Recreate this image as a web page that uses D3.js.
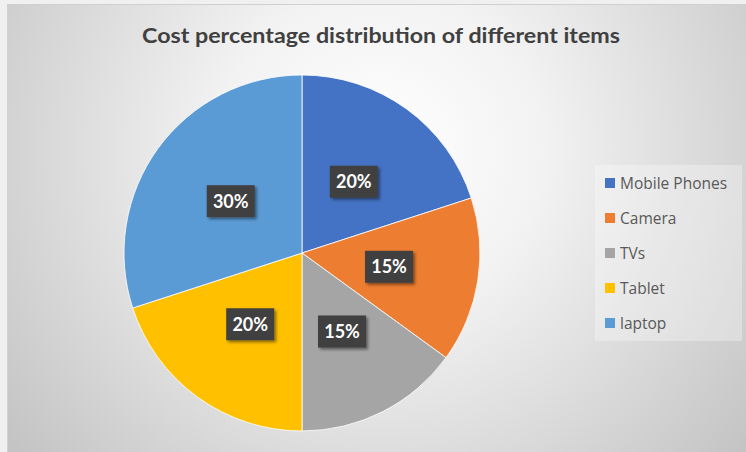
<!DOCTYPE html>
<html>
<head>
<meta charset="utf-8">
<script src="https://cdn.jsdelivr.net/npm/d3@7"></script>
<style>
  html, body { margin: 0; padding: 0; background: #f0f0f0; }
  svg { display: block; }
</style>
</head>
<body>
<svg id="chart" width="746" height="452"></svg>
<script>
// Cost share per item category
const categories = ["Mobile Phones", "Camera", "TVs", "Tablet", "laptop"];
const values = [20, 15, 15, 20, 30];
const colors = ["#4472C4", "#ED7D31", "#A5A5A5", "#FFC000", "#5B9BD5"];
const title = "Cost percentage distribution of different items";

const W = 746, H = 452;
const svg = d3.select("#chart");
const defs = svg.append("defs");

// Radial background fill of the chart area
const bg = defs.append("radialGradient")
  .attr("id", "bgGrad")
  .attr("gradientUnits", "userSpaceOnUse")
  .attr("cx", 380).attr("cy", 150).attr("r", 470);
bg.append("stop").attr("offset", 0).attr("stop-color", "#ffffff");
bg.append("stop").attr("offset", 0.35).attr("stop-color", "#f2f2f2");
bg.append("stop").attr("offset", 1).attr("stop-color", "#c4c4c4");

// Soft shadow under the value labels
const shadow = defs.append("filter").attr("id", "lblShadow")
  .attr("x", "-30%").attr("y", "-30%").attr("width", "160%").attr("height", "160%");
shadow.append("feDropShadow")
  .attr("dx", 2).attr("dy", 2).attr("stdDeviation", 1.8)
  .attr("flood-color", "#000").attr("flood-opacity", 0.45);

svg.append("rect")
  .attr("x", 7.5).attr("y", 4.5).attr("width", W - 7).attr("height", H - 4)
  .attr("fill", "url(#bgGrad)")
  .attr("stroke", "#d0d0d0").attr("stroke-width", 1);

svg.append("text")
  .attr("x", 381).attr("y", 43)
  .attr("text-anchor", "middle")
  .attr("font-family", "Lato, 'Open Sans', sans-serif")
  .attr("font-weight", "bold")
  .attr("font-size", 21.5)
  .attr("textLength", 478)
  .attr("lengthAdjust", "spacingAndGlyphs")
  .attr("fill", "#404040")
  .text(title);

// Pie
const cx = 302, cy = 253, R = 178;
const data = categories.map((c, i) => ({ name: c, value: values[i], color: colors[i] }));
const pie = d3.pie().value(d => d.value).sort(null);
const arcs = pie(data);
const arc = d3.arc().innerRadius(0).outerRadius(R);
const labelArc = d3.arc().innerRadius(R * 0.495).outerRadius(R * 0.495);

const g = svg.append("g").attr("transform", `translate(${cx},${cy})`);
g.selectAll("path.slice")
  .data(arcs)
  .join("path")
  .attr("class", "slice")
  .attr("d", arc)
  .attr("fill", d => d.data.color)
  .attr("stroke", "#ffffff")
  .attr("stroke-width", 0.8);

const lbl = g.selectAll("g.lbl")
  .data(arcs)
  .join("g")
  .attr("class", "lbl")
  .attr("transform", d => {
    const [x, y] = labelArc.centroid(d);
    return `translate(${x},${y})`;
  });
lbl.append("rect")
  .attr("x", -24).attr("y", -16).attr("width", 48).attr("height", 32)
  .attr("fill", "#404040")
  .attr("filter", "url(#lblShadow)");
lbl.append("text")
  .attr("text-anchor", "middle")
  .attr("dy", "0.36em")
  .attr("font-family", "Lato, 'Open Sans', sans-serif")
  .attr("font-weight", "bold")
  .attr("font-size", 18)
  .attr("fill", "#ffffff")
  .text(d => d.data.value + "%");

// Legend panel
svg.append("rect")
  .attr("x", 595).attr("y", 165).attr("width", 147).attr("height", 176)
  .attr("fill", "#ffffff").attr("fill-opacity", 0.3);

const legend = svg.append("g").attr("transform", "translate(605,183)");
const li = legend.selectAll("g.item")
  .data(data)
  .join("g")
  .attr("class", "item")
  .attr("transform", (d, i) => `translate(0,${i * 35})`);
li.append("rect")
  .attr("x", 0).attr("y", -5).attr("width", 10).attr("height", 10)
  .attr("fill", d => d.color);
li.append("text")
  .attr("x", 15).attr("dy", "0.36em")
  .attr("font-family", "'Open Sans', sans-serif")
  .attr("font-size", 15.5)
  .attr("fill", "#595959")
  .text(d => d.name);
</script>
</body>
</html>
